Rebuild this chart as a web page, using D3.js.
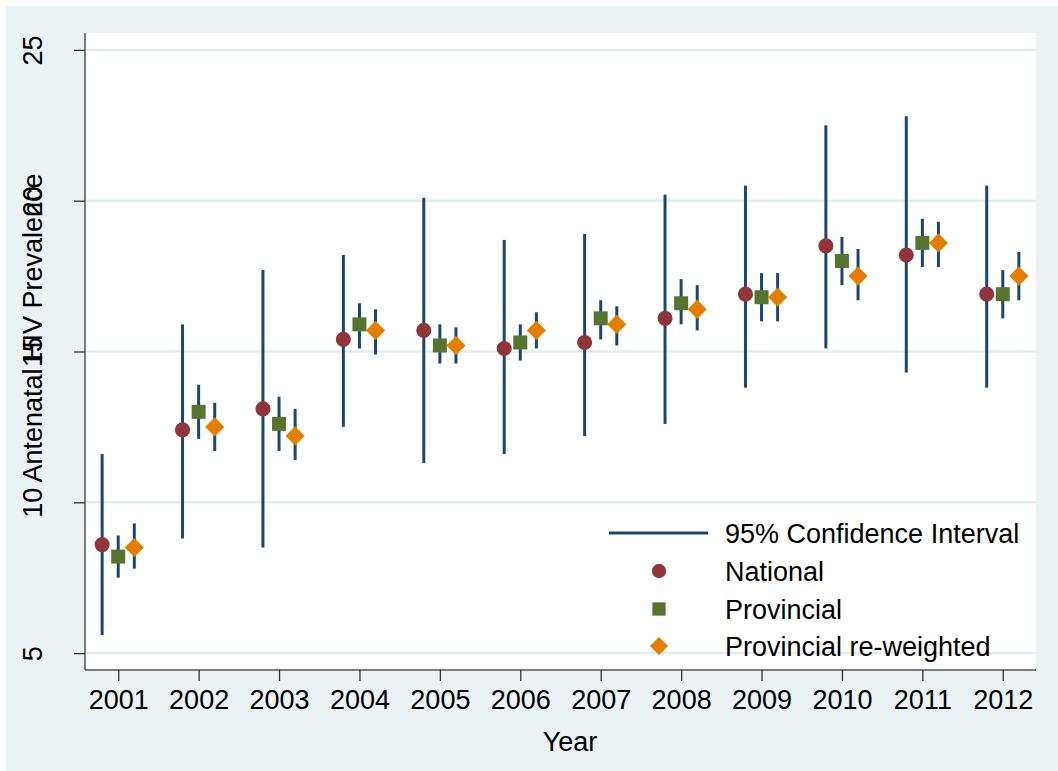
<!DOCTYPE html>
<html>
<head>
<meta charset="utf-8">
<script src="https://cdn.jsdelivr.net/npm/d3@7"></script>
<style>
  html, body { margin: 0; padding: 0; background: #ffffff; }
  svg { display: block; }
  text { font-family: "Liberation Sans", Arial, Helvetica, sans-serif; fill: #000; }
</style>
</head>
<body>
<svg id="chart" width="1058" height="771"></svg>
<script>
// Survey years
const years = [2001, 2002, 2003, 2004, 2005, 2006, 2007, 2008, 2009, 2010, 2011, 2012];

// National estimate with 95% CI
const national    = [8.6, 12.4, 13.1, 15.4, 15.7, 15.1, 15.3, 16.1, 16.9, 18.5, 18.2, 16.9];
const nationalLo  = [5.6, 8.8, 8.5, 12.5, 11.3, 11.6, 12.2, 12.6, 13.8, 15.1, 14.3, 13.8];
const nationalHi  = [11.6, 15.9, 17.7, 18.2, 20.1, 18.7, 18.9, 20.2, 20.5, 22.5, 22.8, 20.5];

// Provincial estimate with 95% CI
const provincial   = [8.2, 13.0, 12.6, 15.9, 15.2, 15.3, 16.1, 16.6, 16.8, 18.0, 18.6, 16.9];
const provincialLo = [7.5, 12.1, 11.7, 15.1, 14.6, 14.7, 15.4, 15.9, 16.0, 17.2, 17.8, 16.1];
const provincialHi = [8.9, 13.9, 13.5, 16.6, 15.9, 15.9, 16.7, 17.4, 17.6, 18.8, 19.4, 17.7];

// Provincial re-weighted estimate with 95% CI
const reweighted   = [8.5, 12.5, 12.2, 15.7, 15.2, 15.7, 15.9, 16.4, 16.8, 17.5, 18.6, 17.5];
const reweightedLo = [7.8, 11.7, 11.4, 14.9, 14.6, 15.1, 15.2, 15.7, 16.0, 16.7, 17.8, 16.7];
const reweightedHi = [9.3, 13.3, 13.1, 16.4, 15.8, 16.3, 16.5, 17.2, 17.6, 18.4, 19.3, 18.3];

const yTicks = [5, 10, 15, 20, 25];

const legendLabels = ["95% Confidence Interval", "National", "Provincial", "Provincial re-weighted"];

const colors = {
  ci: "#1a476f",
  national: "#90353b",
  provincial: "#55752f",
  reweighted: "#e37e00",
  bg: "#eaf2f3",
  grid: "#e4eef0"
};

const W = 1058, H = 771;
const plot = { left: 85, right: 1036, top: 33, bottom: 670 };
const FONT = 27;

const svg = d3.select("#chart");

// Outer graph region
svg.append("rect")
  .attr("x", 6).attr("y", 6)
  .attr("width", W - 6).attr("height", H - 6)
  .attr("fill", colors.bg);

// Plot region
svg.append("rect")
  .attr("x", plot.left).attr("y", plot.top)
  .attr("width", plot.right - plot.left).attr("height", plot.bottom - plot.top)
  .attr("fill", "#ffffff");

const x = d3.scaleLinear().domain([2000.587, 2012.413]).range([plot.left, plot.right]);
const y = d3.scaleLinear().domain([4.44, 25.56]).range([plot.bottom, plot.top]);

// Horizontal gridlines
svg.append("g")
  .selectAll("line")
  .data(yTicks)
  .join("line")
  .attr("x1", plot.left).attr("x2", plot.right)
  .attr("y1", d => y(d)).attr("y2", d => y(d))
  .attr("stroke", colors.grid)
  .attr("stroke-width", 2.5);

// Y axis
const yAxis = svg.append("g")
  .attr("transform", `translate(${plot.left},0)`)
  .call(d3.axisLeft(y).tickValues(yTicks).tickSize(11).tickPadding(0).tickFormat(d3.format("d")));
yAxis.select(".domain").attr("stroke", "#555").attr("stroke-width", 1.5).attr("d", `M0,${plot.top}V${plot.bottom}`);
yAxis.selectAll(".tick line").attr("stroke", "#333").attr("stroke-width", 1.3);
yAxis.selectAll(".tick text")
  .attr("x", null).attr("dy", null)
  .attr("text-anchor", "middle")
  .attr("transform", "translate(-43,0) rotate(-90)")
  .style("font-size", FONT + "px")
  .style("font-family", "'Liberation Sans', Arial, sans-serif")
  .attr("fill", "#000");

// X axis
const xAxis = svg.append("g")
  .attr("transform", `translate(0,${plot.bottom})`)
  .call(d3.axisBottom(x).tickValues(years).tickSize(11).tickPadding(0).tickFormat(d3.format("d")));
xAxis.select(".domain").attr("stroke", "#555").attr("stroke-width", 1.5).attr("d", `M${plot.left},0H${plot.right}`);
xAxis.selectAll(".tick line").attr("stroke", "#333").attr("stroke-width", 1.3);
xAxis.selectAll(".tick text")
  .attr("y", 39).attr("dy", null)
  .style("font-size", FONT + "px")
  .style("font-family", "'Liberation Sans', Arial, sans-serif")
  .attr("fill", "#000");

// Axis titles
svg.append("text")
  .attr("transform", "translate(42,328) rotate(-90)")
  .attr("text-anchor", "middle")
  .style("font-size", FONT + "px")
  .text("Antenatal HIV Prevalence");

svg.append("text")
  .attr("x", 570).attr("y", 751)
  .attr("text-anchor", "middle")
  .style("font-size", FONT + "px")
  .text("Year");

// Series definitions: offset in years from the tick; diamonds are squares turned 45°
const series = [
  { key: "national", est: national, lo: nationalLo, hi: nationalHi, dx: -0.2, color: colors.national, shape: d3.symbolCircle, size: 180, rot: 0 },
  { key: "provincial", est: provincial, lo: provincialLo, hi: provincialHi, dx: 0, color: colors.provincial, shape: d3.symbolSquare, size: 196, rot: 0 },
  { key: "reweighted", est: reweighted, lo: reweightedLo, hi: reweightedHi, dx: 0.2, color: colors.reweighted, shape: d3.symbolSquare, size: 185, rot: 45 }
];

const marks = svg.append("g");

// CI spikes first, all series
series.forEach(s => {
  marks.append("g")
    .selectAll("line")
    .data(years.map((yr, i) => ({ yr, lo: s.lo[i], hi: s.hi[i] })))
    .join("line")
    .attr("x1", d => x(d.yr + s.dx)).attr("x2", d => x(d.yr + s.dx))
    .attr("y1", d => y(d.lo)).attr("y2", d => y(d.hi))
    .attr("stroke", colors.ci)
    .attr("stroke-width", 3);
});

// Point estimates
series.forEach(s => {
  const sym = d3.symbol().type(s.shape).size(s.size);
  marks.append("g")
    .selectAll("path")
    .data(years.map((yr, i) => ({ yr, v: s.est[i] })))
    .join("path")
    .attr("d", sym)
    .attr("transform", d => `translate(${x(d.yr + s.dx)},${y(d.v)}) rotate(${s.rot})`)
    .attr("fill", s.color);
});

// Legend
const legend = svg.append("g");
const legRows = [533, 571, 609, 646];
const symX = 659, textX = 725;

legend.append("line")
  .attr("x1", 609).attr("x2", 708)
  .attr("y1", legRows[0]).attr("y2", legRows[0])
  .attr("stroke", colors.ci).attr("stroke-width", 3);

series.forEach((s, i) => {
  legend.append("path")
    .attr("d", d3.symbol().type(s.shape).size(s.size * 0.9)())
    .attr("transform", `translate(${symX},${legRows[i + 1]}) rotate(${s.rot})`)
    .attr("fill", s.color);
});

legend.selectAll("text")
  .data(legendLabels)
  .join("text")
  .attr("x", textX)
  .attr("y", (d, i) => legRows[i] + 10)
  .style("font-size", FONT + "px")
  .text(d => d);
</script>
</body>
</html>
